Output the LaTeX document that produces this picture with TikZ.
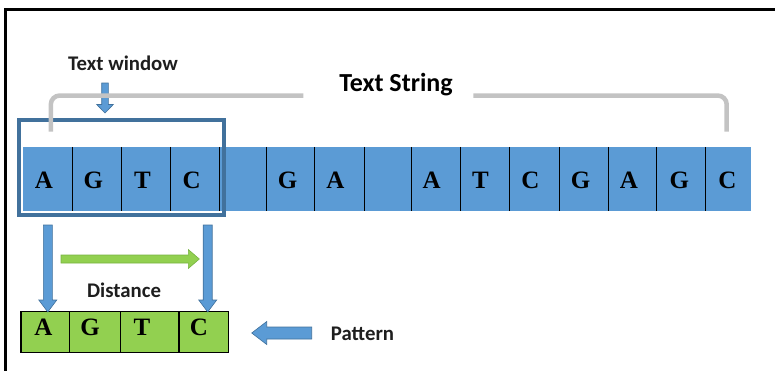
\documentclass[tikz,border=0pt]{standalone}
\usepackage{fontspec}
\setmainfont{Liberation Serif}
\newfontfamily\labfont{Carlito}
\usetikzlibrary{calc}
\definecolor{cellblue}{HTML}{5B9BD5}
\definecolor{winblue}{HTML}{41719C}
\definecolor{pgreen}{HTML}{92D050}
\definecolor{agreenline}{HTML}{77B341}
\definecolor{brgray}{HTML}{C3C3C3}
\definecolor{labcol}{HTML}{1E1E1E}
\newcommand{\blockarrow}[6]{%
  \path ($(#2)!#5!(#1)$) coordinate (ba-h);
  \filldraw[#6] ($(#1)!#3!90:(#2)$) -- ($(ba-h)!#3!90:(#2)$) -- ($(ba-h)!#4!90:(#2)$) -- (#2)
     -- ($(ba-h)!#4!-90:(#2)$) -- ($(ba-h)!#3!-90:(#2)$) -- ($(#1)!#3!-90:(#2)$) -- cycle;}
\tikzset{
  stripcell/.style={rectangle, inner sep=0pt, minimum height=64pt},
  divider/.style={line width=1.2pt, black},
  letter/.style={anchor=base, inner sep=0pt, font=\fontsize{25}{28}\selectfont\bfseries, text=black},
  window/.style={rectangle, draw=winblue, line width=4pt, inner sep=0pt, minimum width=204.2pt, minimum height=94.7pt},
  lab/.style={anchor=base, inner sep=0pt, text=labcol, font=\labfont\bfseries\fontsize{20.8}{24}\selectfont},
  biglab/.style={anchor=base, inner sep=0pt, text=black, font=\labfont\bfseries\fontsize{26}{30}\selectfont},
  barrow/.style={fill=cellblue, draw=winblue, line width=0.6pt, line join=miter},
  garrow/.style={fill=pgreen, draw=agreenline, line width=0.6pt, line join=miter},
  bracket/.style={draw=brgray, line width=4.5pt, rounded corners=9pt},
  pcell/.style={rectangle, draw=black, line width=1.2pt, fill=pgreen, inner sep=0pt, minimum height=41pt},
}
\begin{document}
\begin{tikzpicture}[x=1pt, y=-1pt]
\useasboundingbox (0,0) rectangle (775,370);
% frame
\draw[line width=3pt, line join=miter] (5.7,371) -- (5.7,9) -- (776,9);
% strip cells
\foreach \a/\b [count=\i] in {23.5/72.5, 72.5/121.5, 121.5/170, 170/219, 219/266.5, 266.5/314.5, 314.5/364, 364/411.5, 411.5/460.5, 460.5/509.5, 509.5/559, 559/608.5, 608.5/656.5, 656.5/705.5, 705.5/751}
  \node[stripcell, minimum width={(\b-\a)*1pt}] (s\i) at ({(\a+\b)/2},179) {};
\fill[cellblue] (s1.north west) rectangle (s15.south east);
\foreach \i in {1,...,14}
  \draw[divider] (s\i.north east) -- (s\i.south east);
\foreach \x/\L [count=\k] in {43.8/A,93.3/G,142.5/T,191.7/C,287.5/G,335.5/A,431.7/A,480.5/T,530.5/C,580.7/G,628.8/A,679.3/G,727.5/C}
  \node[letter] (t\k) at (\x,188.5) {\L};
% text window
\node[window] (win) at (121.4,167.6) {};
\node[lab] (twl) at (123,70.5) {Text window};
\coordinate (twa1) at (105,83);
\coordinate (twa2) at (105,113);
\blockarrow{twa1}{twa2}{3.3pt}{8.3pt}{8.5pt}{barrow}
% bracket
\coordinate (bl) at (50.8,131.7);
\coordinate (bm1) at (303.3,95.5);
\coordinate (bm2) at (473.3,95.5);
\coordinate (br) at (726.7,131.7);
\draw[bracket] (bl) |- (bm1);
\draw[bracket] (bm2) -| (br);
\node[biglab] (ts) at (396,91.5) {Text String};
% pattern
\foreach \a/\b/\c/\L [count=\i] in {21/69.3/43.3/A, 69.3/120.7/90/G, 120.7/179/142/T, 179/228.7/199/C}{
  \node[pcell, minimum width={(\b-\a)*1pt}] (p\i) at ({(\a+\b)/2},332.2) {};
  \node[letter] (pl\i) at (\c,335.5) {\L};
}
% down arrows
\coordinate (da1) at (47.8,225);
\coordinate (da1e) at (47.8,312);
\coordinate (da2) at (207.7,225);
\coordinate (da2e) at (207.7,312);
\blockarrow{da1}{da1e}{4.5pt}{9pt}{12pt}{barrow}
\blockarrow{da2}{da2e}{4.5pt}{9pt}{12pt}{barrow}
% distance
\coordinate (ga1) at (61,259);
\coordinate (ga2) at (199.3,259);
\blockarrow{ga1}{ga2}{4pt}{9.5pt}{11pt}{garrow}
\node[lab] (dl) at (124,297) {Distance};
% pattern arrow
\coordinate (pa1) at (311.7,333);
\coordinate (pa2) at (251.7,333);
\blockarrow{pa1}{pa2}{6pt}{11.5pt}{15pt}{barrow}
\node[lab] (pl) at (362.5,340) {Pattern};
\end{tikzpicture}
\end{document}
